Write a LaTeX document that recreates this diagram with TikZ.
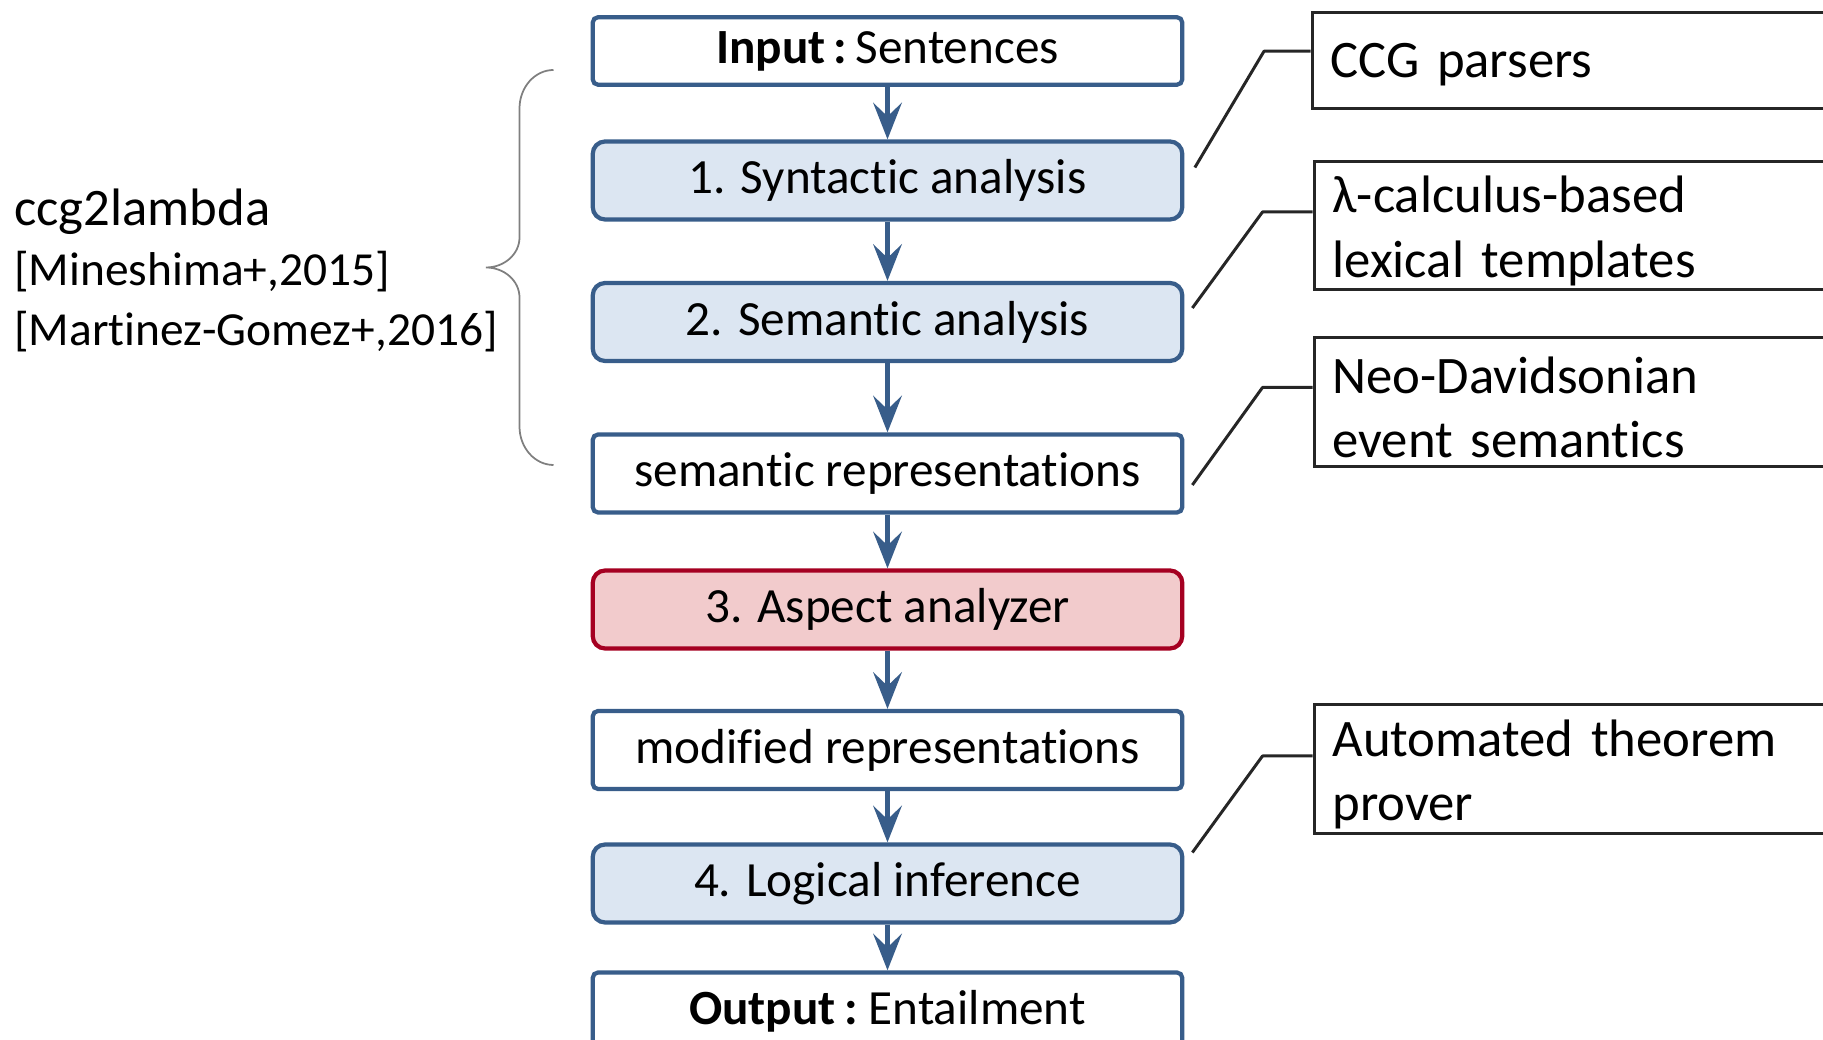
\documentclass[tikz,border=0pt]{standalone}
\usepackage{fontspec}
\setmainfont{Carlito}[Ligatures={NoCommon,NoContextual,NoRare,NoRequired}]
\usetikzlibrary{arrows.meta, calc}

\definecolor{stageblue}{HTML}{385D8A}
\definecolor{stagefill}{HTML}{DCE6F2}
\definecolor{aspectred}{HTML}{A50021}
\definecolor{aspectfill}{HTML}{F2CBCC}
\definecolor{notegray}{HTML}{262626}
\definecolor{bracegray}{HTML}{7F7F7F}

\tikzset{
	stage/.style={draw=stageblue, line width=2.4pt, fill=stagefill, rounded corners=7pt,
		minimum width=11.79cm, minimum height=1.56cm, inner sep=0pt,
		font=\fontsize{28}{34}\selectfont},
	io/.style={stage, fill=white, rounded corners=3pt},
	aspect/.style={stage, draw=aspectred, fill=aspectfill},
	note/.style={draw=notegray, line width=1.7pt, fill=white, anchor=north west,
		text width=10cm, inner xsep=0.37cm, align=left,
		font=\fontsize{30}{36.5}\selectfont, execute at end node={\vspace{-0.2cm}}},
	flow/.style={draw=stageblue, line width=2.8pt,
		-{Stealth[length=0.73cm, width=0.57cm, inset=0.27cm]}},
	callout/.style={draw=notegray, line width=1.7pt, line join=round},
}

\begin{document}
\begin{tikzpicture}
	\clip (0,0) rectangle (36.46,20.79);

	\node[io, minimum height=1.35cm] (inp) at (17.75,19.77) {\textbf{Input\,:}\,Sentences};
	\node[stage] (syn) at (17.75,17.18) {1. Syntactic analysis};
	\node[stage] (sem) at (17.75,14.35) {2. Semantic analysis};
	\node[io] (rep) at (17.75,11.32) {semantic representations};
	\node[aspect] (asp) at (17.75,8.60) {3. Aspect analyzer};
	\node[io] (mod) at (17.75,5.79) {modified representations};
	\node[stage] (logic) at (17.75,3.12) {4. Logical inference};
	\node[io] (out) at (17.75,0.56) {\textbf{Output\,:}\ Entailment};

	\foreach \a/\b in {inp/syn, syn/sem, sem/rep, rep/asp, asp/mod, mod/logic, logic/out}
		\draw[flow] (\a) -- (\b);

	\node[note, minimum height=1.91cm] (ccg) at (26.21,20.56) {CCG parsers};
	\node[note, minimum height=2.56cm] (lam) at (26.25,17.58) {λ-calculus-based\\lexical templates};
	\node[note, minimum height=2.58cm] (neo) at (26.25,14.07) {Neo-Davidsonian\\event semantics};
	\node[note, minimum height=2.58cm] (atp) at (26.25,6.72) {Automated theorem\\prover};

	\draw[callout] ($(syn.east)+(0.21,0.26)$) -- ($(ccg.west)+(-0.93,0.19)$) -- ($(ccg.west)+(0,0.19)$);
	\draw[callout] ($(sem.east)+(0.16,0.28)$) -- ($(lam.west)+(-1.0,0.28)$) -- ($(lam.west)+(0,0.28)$);
	\draw[callout] ($(rep.east)+(0.16,-0.23)$) -- ($(neo.west)+(-1.0,0.29)$) -- ($(neo.west)+(0,0.29)$);
	\draw[callout] ($(logic.east)+(0.16,0.62)$) -- ($(atp.west)+(-1.0,0.27)$) -- ($(atp.west)+(0,0.27)$);

	\node[anchor=west, align=left, inner sep=0pt, font=\fontsize{27}{34}\selectfont] (tool) at (0.28,15.38)
		{{\fontsize{30}{34}\selectfont ccg2lambda}\\{[Mineshima+,2015]}\\{[Martinez-Gomez+,2016]}};

	\draw[bracegray, line width=1pt] (11.07,19.39)
		.. controls (10.70,19.39) and (10.39,19.05) .. (10.39,18.62) -- (10.39,16.04)
		.. controls (10.39,15.71) and (10.09,15.44) .. (9.72,15.44)
		.. controls (10.09,15.44) and (10.39,15.17) .. (10.39,14.84) -- (10.39,12.26)
		.. controls (10.39,11.83) and (10.70,11.49) .. (11.07,11.49);
\end{tikzpicture}
\end{document}
